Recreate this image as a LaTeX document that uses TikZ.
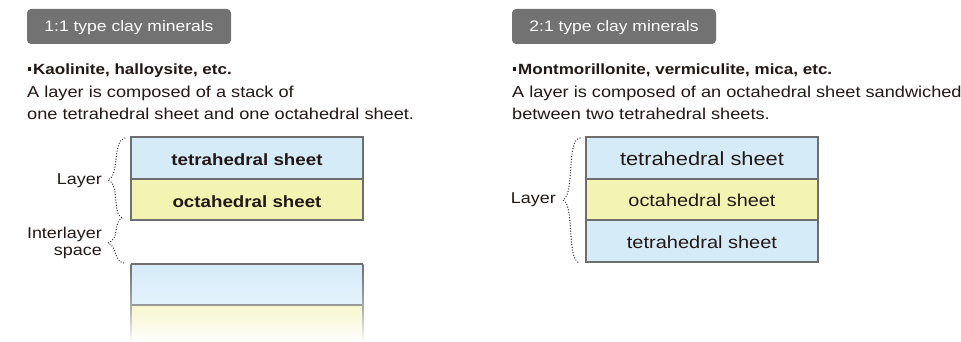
\documentclass[tikz,border=0pt]{standalone}
\usepackage{fontspec}
\setmainfont[FakeStretch=1.15]{Liberation Sans}
\usetikzlibrary{positioning}
\definecolor{headgray}{HTML}{727272}
\definecolor{txt}{HTML}{231815}
\definecolor{tetra}{HTML}{D5EBF8}
\definecolor{tetralight}{HTML}{E4F3FB}
\definecolor{octa}{HTML}{F3F3B2}
\definecolor{octalight}{HTML}{F6F6CC}
\definecolor{edge}{HTML}{6E6E6E}
\definecolor{bracec}{HTML}{2E2E2E}
\tikzset{
  head/.style={fill=headgray, rounded corners=4pt, draw=none},
  headtext/.style={text=white, font=\fontsize{15.2}{18}\selectfont, anchor=base, inner sep=0pt},
  body/.style={text=txt, font=\fontsize{15.8}{18}\selectfont, anchor=base west, inner sep=0pt},
  bodybold/.style={text=txt, font=\fontsize{14.8}{18}\selectfont\bfseries, anchor=base west, inner sep=0pt},
  side/.style={text=txt, font=\fontsize{15.6}{18}\selectfont, anchor=base east, inner sep=0pt},
  tbox/.style={fill=tetra, draw=edge, line width=1.2pt},
  obox/.style={fill=octa, draw=edge, line width=1.2pt},
  lbl/.style={text=txt, anchor=base, inner sep=0pt},
  bracestyle/.style={draw=bracec, line width=1.3pt, dash pattern=on 0.1pt off 2.6pt, line cap=round},
}
\begin{document}
\begin{tikzpicture}[x=1pt,y=-1pt]
\useasboundingbox (0,0) rectangle (961,342);
\fill[white] (0,0) rectangle (961,342);

% ---------- Left column ----------
\fill[head] (27,9) rectangle (231,44);
\node[headtext] (h1) at (129,32) {1:1 type clay minerals};
\fill[txt] (27.5,67.5) rectangle (31,71.5);
\node[bodybold] (b1) at (33,75) {Kaolinite, halloysite, etc.};
\node[body] (l1a) at (27,97.5) {A layer is composed of a stack of};
\node[body] (l1b) at (27,119.5) {one tetrahedral sheet and one octahedral sheet.};

\draw[tbox] (131,137) rectangle (363,179);
\draw[obox] (131,179) rectangle (363,220);
\node[lbl, font=\fontsize{16.3}{18}\selectfont\bfseries] (t1) at (247,165) {tetrahedral sheet};
\node[lbl, font=\fontsize{16.3}{18}\selectfont\bfseries] (o1) at (247,207) {octahedral sheet};

% lower faded layer
\shade[top color=tetra, bottom color=tetralight] (131,264) rectangle (363,305);
\shade[top color=octalight, bottom color=white] (131,305) rectangle (363,342);
\draw[edge, line width=1.2pt] (131,264) -- (363,264);
\draw[edge!70, line width=1.2pt] (131,305) -- (363,305);
\shade[top color=edge, bottom color=edge!60] (130.4,264) rectangle (131.6,305);
\shade[top color=edge!60, bottom color=white] (130.4,305) rectangle (131.6,342);
\shade[top color=edge, bottom color=edge!60] (362.4,264) rectangle (363.6,305);
\shade[top color=edge!60, bottom color=white] (362.4,305) rectangle (363.6,342);

\node[side] (lay1) at (102,184) {Layer};
\node[side] (il1) at (102,238.5) {Interlayer};
\node[side] (sp1) at (102,255) {space};

\coordinate (br1a) at (125,138);
\coordinate (br1t) at (108,180);
\coordinate (br1b) at (122,218);
\coordinate (br2t) at (108,243);
\coordinate (br2b) at (124,263);
\draw[bracestyle] (br1a) .. controls (112,140) and (120,176) .. (br1t)
                          .. controls (120,184) and (112,214) .. (br1b);
\draw[bracestyle] (br1b) .. controls (113,222) and (120,239) .. (br2t)
                          .. controls (118,247) and (113,261) .. (br2b);

% ---------- Right column ----------
\fill[head] (512,9) rectangle (716,44);
\node[headtext] (h2) at (614,32) {2:1 type clay minerals};
\fill[txt] (512.5,67.5) rectangle (516,71.5);
\node[bodybold] (b2) at (518,75) {Montmorillonite, vermiculite, mica, etc.};
\node[body] (l2a) at (512,97.5) {A layer is composed of an octahedral sheet sandwiched};
\node[body] (l2b) at (512,119.5) {between two tetrahedral sheets.};

\draw[tbox] (586,137) rectangle (818,179);
\draw[obox] (586,179) rectangle (818,220);
\draw[tbox] (586,220) rectangle (818,262);
\node[lbl, font=\fontsize{19}{20}\selectfont] (t2) at (702,165) {tetrahedral sheet};
\node[lbl, font=\fontsize{17.3}{20}\selectfont] (o2) at (702,206.5) {octahedral sheet};
\node[lbl, font=\fontsize{17.4}{20}\selectfont] (t3) at (702,248) {tetrahedral sheet};

\node[side] (lay2) at (556,203.5) {Layer};
\coordinate (br3a) at (580,138);
\coordinate (br3t) at (563,200);
\coordinate (br3b) at (580,263);
\draw[bracestyle] (br3a) .. controls (566,140) and (575,195) .. (br3t)
                          .. controls (575,205) and (566,261) .. (br3b);
\end{tikzpicture}
\end{document}
